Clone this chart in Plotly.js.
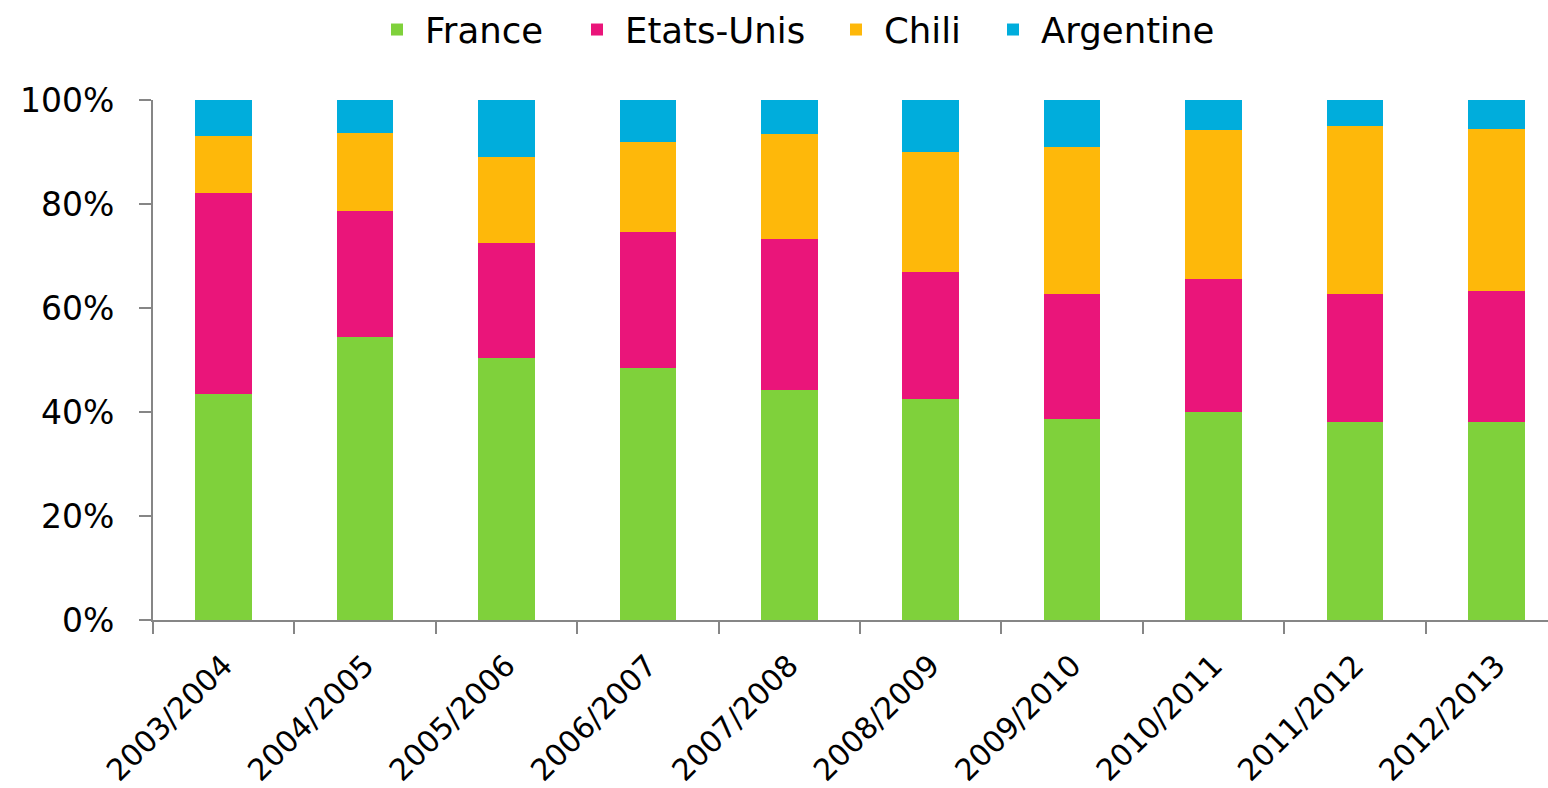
<!DOCTYPE html>
<html>
<head>
<meta charset="utf-8">
<script src="https://cdn.plot.ly/plotly-3.0.1.min.js"></script>
<style>html,body{margin:0;padding:0;background:#fff;}#chart{width:1548px;height:788px;}</style>
</head>
<body>
<div id="chart"></div>
<script>
const seasons = ["2003/2004","2004/2005","2005/2006","2006/2007","2007/2008","2008/2009","2009/2010","2010/2011","2011/2012","2012/2013"];
const france    = [43.5, 54.4, 50.4, 48.5, 44.2, 42.5, 38.7, 40.0, 38.1, 38.1];
const etatsUnis = [38.6, 24.3, 22.1, 26.1, 29.1, 24.4, 23.9, 25.6, 24.5, 25.2];
const chili     = [11.0, 15.0, 16.5, 17.3, 20.2, 23.1, 28.4, 28.6, 32.4, 31.1];
const argentine = [6.9, 6.3, 11.0, 8.1, 6.5, 10.0, 9.0, 5.8, 5.0, 5.6];
const seriesNames = ["France","Etats-Unis","Chili","Argentine"];
const seriesColors = ["#7fd13b","#ea157a","#feb80a","#00addc"];
const seriesData = [france, etatsUnis, chili, argentine];
const legendIds = ['legend','legend2','legend3','legend4'];
const legendLeft = [369, 569, 828, 985];

const traces = seriesData.map((d,i)=>({
  type:'bar', x:seasons, y:d, name:seriesNames[i], legend:legendIds[i],
  marker:{color:seriesColors[i], line:{width:0}},
  hoverinfo:'x+y+name'
}));

const axisColor = '#868686';
const layout = {
  width:1548, height:788,
  margin:{l:153, r:0, t:100, b:168},
  paper_bgcolor:'#fff', plot_bgcolor:'#fff',
  barmode:'stack', barnorm:'percent', bargap:0.6,
  font:{family:'DejaVu Sans, sans-serif', color:'#000'},
  showlegend:true,
  xaxis:{type:'category', range:[-0.5, 9.365], showline:true, linecolor:axisColor, linewidth:2,
         ticks:'outside', tickson:'boundaries', ticklen:12, tickcolor:axisColor, tickwidth:2,
         tickangle:-45, ticklabelstandoff:14, tickfont:{size:30, color:'#000'}, showgrid:false, zeroline:false, fixedrange:true},
  yaxis:{range:[0,100], tickvals:[0,20,40,60,80,100], ticktext:['0%','20%','40%','60%','80%','100%'],
         showline:true, linecolor:axisColor, linewidth:2, ticks:'outside', ticklen:12, tickcolor:axisColor, tickwidth:2,
         ticklabelstandoff:18, tickfont:{size:33, color:'#000'}, showgrid:false, zeroline:false, fixedrange:true}
};
legendIds.forEach((id,i)=>{
  layout[id] = {orientation:'h', xref:'container', yref:'container', x:legendLeft[i]/1548, xanchor:'left',
                y:0.962, yanchor:'middle', font:{size:35.5, color:'#000'}, itemwidth:46, bgcolor:'rgba(0,0,0,0)'};
});
Plotly.newPlot('chart', traces, layout, {displayModeBar:false, staticPlot:true});
</script>
</body>
</html>
